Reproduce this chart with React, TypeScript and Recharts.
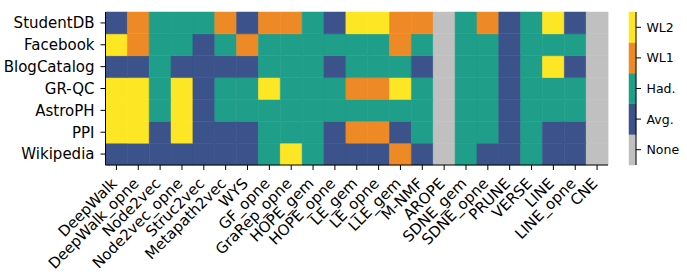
import React from "react";
import { BarChart, Bar, XAxis, YAxis, Cell } from "recharts";

// Methods (columns)
const methods = [
  "DeepWalk", "DeepWalk_opne", "Node2vec", "Node2vec_opne", "Struc2vec", "Metapath2vec", "WYS",
  "GF_opne", "GraRep_opne", "HOPE_gem", "HOPE_opne", "LE_gem", "LE_opne", "LLE_gem", "M-NMF",
  "AROPE", "SDNE_gem", "SDNE_opne", "PRUNE", "VERSE", "LINE", "LINE_opne", "CNE",
];

// Datasets (rows, top to bottom)
const datasets = ["StudentDB", "Facebook", "BlogCatalog", "GR-QC", "AstroPH", "PPI", "Wikipedia"];

// Levels: 0 None, 1 Avg., 2 Had., 3 WL1, 4 WL2
const levelLabels = ["None", "Avg.", "Had.", "WL1", "WL2"];
const levelColors = ["#c0c0c0", "#3b528b", "#1f9e89", "#ee8a25", "#fde725"];

const studentDB = [1, 3, 2, 2, 2, 3, 1, 3, 3, 2, 1, 4, 4, 3, 3, 0, 2, 3, 1, 2, 4, 1, 0];
const facebook = [4, 3, 2, 2, 1, 2, 3, 2, 2, 2, 2, 2, 2, 3, 2, 0, 2, 2, 1, 2, 2, 2, 0];
const blogCatalog = [1, 1, 2, 1, 1, 1, 1, 2, 2, 2, 1, 2, 2, 2, 1, 0, 2, 2, 1, 2, 4, 1, 0];
const grQc = [4, 4, 2, 4, 1, 2, 2, 4, 2, 2, 2, 3, 3, 4, 2, 0, 2, 2, 1, 2, 2, 2, 0];
const astroPH = [4, 4, 2, 4, 1, 2, 2, 2, 2, 2, 2, 2, 2, 2, 2, 0, 2, 2, 1, 2, 2, 2, 0];
const ppi = [4, 4, 1, 4, 1, 1, 1, 2, 2, 2, 1, 3, 3, 1, 2, 0, 2, 2, 1, 2, 1, 1, 0];
const wikipedia = [1, 1, 1, 1, 1, 1, 1, 2, 4, 2, 1, 1, 1, 3, 1, 0, 2, 1, 1, 2, 1, 1, 0];

const grid = [studentDB, facebook, blogCatalog, grQc, astroPH, ppi, wikipedia];

const FONT = "DejaVu Sans";

const data = methods.map((m) => {
  const row: Record<string, any> = { name: m };
  datasets.forEach((d) => {
    row[d] = 1;
  });
  return row;
});

const cbData = [
  levelLabels.reduce((acc: Record<string, any>, l) => {
    acc[l] = 1;
    return acc;
  }, { name: "cb" }),
];

const rowTicks = datasets.map((_, i) => i + 0.5);
const levelTicks = levelLabels.map((_, i) => i + 0.5);

const XTick = (props: any) => {
  const { x, y, payload } = props;
  return (
    <g transform={`translate(${x + 1.5},${y + 12.5})`}>
      <text
        x={0}
        y={0}
        textAnchor="end"
        transform="rotate(-45)"
        fontFamily={FONT}
        fontSize={15}
        fill="#000"
      >
        {payload.value}
      </text>
    </g>
  );
};

export default function App() {
  const bottomUp = [...datasets].map((d, i) => ({ d, i })).reverse();
  return (
    <div style={{ position: "absolute", left: 0, top: 0, width: 687, height: 277, background: "#fff" }}>
      <div style={{ position: "absolute", left: 0, top: 0 }}>
        <BarChart
          width={687}
          height={277}
          data={data}
          margin={{ top: 12, right: 79, bottom: 0, left: 0 }}
          barCategoryGap={0}
          barGap={0}
        >
          <XAxis
            dataKey="name"
            interval={0}
            height={112}
            tick={<XTick />}
            tickSize={5}
            axisLine={{ stroke: "#000", strokeWidth: 1 }}
            tickLine={{ stroke: "#000", strokeWidth: 1 }}
          />
          <XAxis
            xAxisId="top"
            orientation="top"
            dataKey="name"
            height={0}
            tick={false}
            tickLine={false}
            axisLine={{ stroke: "#000", strokeWidth: 1 }}
          />
          <YAxis
            type="number"
            domain={[0, 7]}
            ticks={rowTicks}
            interval={0}
            width={105.5}
            tickSize={5}
            tickMargin={6}
            tickFormatter={(v: number) => datasets[Math.round(6.5 - v)]}
            tick={{ fontFamily: FONT, fontSize: 15, fill: "#000" }}
            axisLine={{ stroke: "#000", strokeWidth: 1 }}
            tickLine={{ stroke: "#000", strokeWidth: 1 }}
          />
          <YAxis
            yAxisId="right"
            orientation="right"
            type="number"
            domain={[0, 7]}
            width={0}
            tick={false}
            tickLine={false}
            axisLine={{ stroke: "#000", strokeWidth: 1 }}
          />
          {bottomUp.map(({ d, i }) => (
            <Bar key={d} dataKey={d} stackId="a" isAnimationActive={false}>
              {methods.map((m, c) => (
                <Cell
                  key={m}
                  fill={levelColors[grid[i][c]]}
                  stroke={levelColors[grid[i][c]]}
                  strokeWidth={0.5}
                />
              ))}
            </Bar>
          ))}
        </BarChart>
      </div>
      <div style={{ position: "absolute", left: 0, top: 0 }}>
        <BarChart
          width={687}
          height={277}
          data={cbData}
          margin={{ top: 12, right: 0, bottom: 112, left: 629 }}
          barCategoryGap={0}
          barGap={0}
        >
          <XAxis dataKey="name" height={0} tick={false} tickLine={false} axisLine={{ stroke: "#000", strokeWidth: 1 }} />
          <XAxis
            xAxisId="top"
            orientation="top"
            dataKey="name"
            height={0}
            tick={false}
            tickLine={false}
            axisLine={{ stroke: "#000", strokeWidth: 1 }}
          />
          <YAxis
            yAxisId="left"
            type="number"
            domain={[0, 5]}
            width={0}
            tick={false}
            tickLine={false}
            axisLine={{ stroke: "#000", strokeWidth: 1 }}
          />
          <YAxis
            orientation="right"
            type="number"
            domain={[0, 5]}
            ticks={levelTicks}
            interval={0}
            width={51}
            tickSize={5}
            tickMargin={5.5}
            tickFormatter={(v: number) => levelLabels[Math.floor(v)]}
            tick={{ fontFamily: FONT, fontSize: 12.5, fill: "#000", textAnchor: "start" }}
            axisLine={{ stroke: "#000", strokeWidth: 1 }}
            tickLine={{ stroke: "#000", strokeWidth: 1 }}
          />
          {levelLabels.map((l, i) => (
            <Bar
              key={l}
              dataKey={l}
              stackId="cb"
              isAnimationActive={false}
              fill={levelColors[i]}
              stroke={levelColors[i]}
              strokeWidth={0.5}
            />
          ))}
        </BarChart>
      </div>
    </div>
  );
}
